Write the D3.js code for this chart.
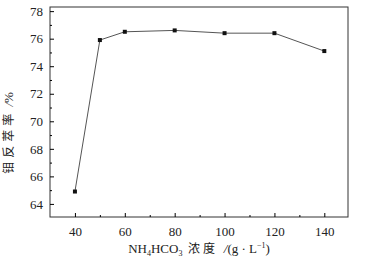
<!DOCTYPE html>
<html>
<head>
<meta charset="utf-8">
<script src="https://cdn.jsdelivr.net/npm/d3@7"></script>
<style>
  body { margin: 0; background: #fff; }
  text { font-family: "Liberation Serif", "DejaVu Serif", serif; fill: #222; }
  .cjk { font-family: "Noto Sans CJK SC", sans-serif; }
</style>
</head>
<body>
<div id="chart"></div>
<script>
    // Data
    const concentration = [40, 50, 60, 80, 100, 120, 140];
    const extraction = [64.9, 75.9, 76.5, 76.6, 76.4, 76.4, 75.1];
    const xTicks = [40, 60, 80, 100, 120, 140];
    const yTicks = [64, 66, 68, 70, 72, 74, 76, 78];

    const margin = { top: 7, right: 22, bottom: 49, left: 50 };
    const width = 370 - margin.left - margin.right;
    const height = 266 - margin.top - margin.bottom;

    const svg = d3.select("#chart")
        .append("svg")
        .attr("width", 370)
        .attr("height", 266)
        .append("g")
        .attr("transform", `translate(${margin.left},${margin.top})`);

    const x = d3.scaleLinear().domain([30, 149.5]).range([0, width]);
    const y = d3.scaleLinear().domain([63.05, 78.3]).range([height, 0]);

    // Frame
    svg.append("rect")
        .attr("width", width)
        .attr("height", height)
        .attr("fill", "none")
        .attr("stroke", "#333")
        .attr("stroke-width", 1);

    // X axis, ticks pointing inward
    const xAxis = svg.append("g")
        .attr("transform", `translate(0,${height})`)
        .call(d3.axisBottom(x).tickValues(xTicks).tickSize(-4).tickPadding(10));
    xAxis.select(".domain").remove();
    xAxis.selectAll("text").style("font-size", "13px");
    svg.append("g")
        .attr("transform", `translate(0,${height})`)
        .call(d3.axisBottom(x).tickValues([50, 70, 90, 110, 130]).tickSize(-2).tickFormat(""))
        .select(".domain").remove();

    // Y axis, ticks pointing inward
    const yAxis = svg.append("g")
        .call(d3.axisLeft(y).tickValues(yTicks).tickSize(-4).tickPadding(7));
    yAxis.select(".domain").remove();
    yAxis.selectAll("text").style("font-size", "13px");
    svg.append("g")
        .call(d3.axisLeft(y).tickValues([65, 67, 69, 71, 73, 75, 77]).tickSize(-2).tickFormat(""))
        .select(".domain").remove();

    const pts = concentration.map((c, i) => ({ c, v: extraction[i] }));

    // Line
    svg.append("path")
        .datum(pts)
        .attr("fill", "none")
        .attr("stroke", "#555")
        .attr("stroke-width", 1)
        .attr("d", d3.line().x(d => x(d.c)).y(d => y(d.v)));

    // Square markers
    svg.selectAll(".pt")
        .data(pts)
        .enter().append("rect")
        .attr("class", "pt")
        .attr("x", d => x(d.c) - 2)
        .attr("y", d => y(d.v) - 2)
        .attr("width", 4)
        .attr("height", 4)
        .attr("fill", "#111");

    // Axis titles
    const xt = svg.append("text")
        .attr("x", width / 2 + 0)
        .attr("y", height + 36)
        .attr("text-anchor", "middle")
        .style("font-size", "13px");
    xt.append("tspan").text("NH");
    xt.append("tspan").attr("dy", 3).style("font-size", "8px").text("4");
    xt.append("tspan").attr("dy", -3).text("HCO");
    xt.append("tspan").attr("dy", 3).style("font-size", "8px").text("3");
    xt.append("tspan").attr("dy", -3).attr("class", "cjk").style("font-size", "12px")
        .style("letter-spacing", "3px").text(" 浓度 ");
    xt.append("tspan").style("font-style", "italic").text(" /");
    xt.append("tspan").text("(g · L");
    xt.append("tspan").attr("dy", -5).style("font-size", "8px").text("−1");
    xt.append("tspan").attr("dy", 5).text(")");

    const yt = svg.append("text")
        .attr("transform", `translate(${-37},${height / 2 + 21}) rotate(-90)`)
        .attr("text-anchor", "middle")
        .style("font-size", "13px");
    yt.append("tspan").attr("class", "cjk").style("font-size", "12px")
        .style("letter-spacing", "4px").text("钼反萃率");
    yt.append("tspan").style("font-style", "italic").text(" /");
    yt.append("tspan").text("%");
</script>
</body>
</html>
